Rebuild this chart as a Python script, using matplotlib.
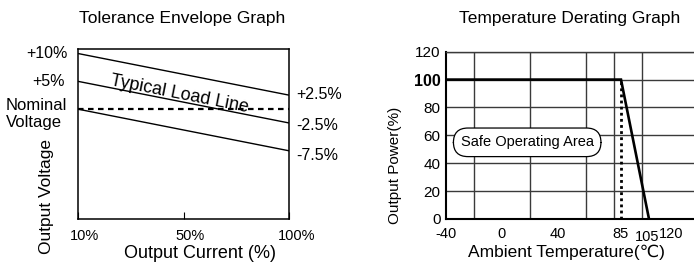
import numpy as np
import matplotlib.pyplot as plt
from matplotlib.transforms import ScaledTranslation

plt.rcParams['font.family'] = ['Liberation Sans', 'DejaVu Sans']

# tolerance envelope (output voltage deviation in % vs output current)
current = [10, 100]
upper_limit = [10, 2.5]
typical_line = [5, -2.5]
lower_limit = [0, -7.5]
nominal = [0, 0]
current_ticks = [10, 55, 100]
current_labels = ['10%', '50%', '100%']

# temperature derating
temps = [-40, 85, 105]
power = [100, 100, 0]
temp_ticks = [-40, 0, 40, 85, 105, 120]
power_ticks = [0, 20, 40, 60, 80, 100, 120]

W, H = 694, 266
fig = plt.figure(figsize=(W / 100, H / 100), dpi=100)


def box(l, t, r, b):  # pixel box -> figure fraction
    return [l / W, 1 - b / H, (r - l) / W, (b - t) / H]


def ftext(x, y, s, **kw):  # text placed in pixel coords
    return fig.text(x / W, 1 - y / H, s, **kw)


def shift(lab, dx, dy):  # nudge a tick label by pixels
    lab.set_transform(lab.get_transform() + ScaledTranslation(dx / 100, -dy / 100, fig.dpi_scale_trans))


# ---- left: tolerance envelope ----
ax1 = fig.add_axes(box(77.7, 49, 289.3, 219.3))
ax1.plot(current, upper_limit, color='black', lw=1.0)
ax1.plot(current, typical_line, color='black', lw=1.0)
ax1.plot(current, lower_limit, color='black', lw=1.0)
ax1.plot(current, nominal, color='black', lw=1.6, linestyle=(0, (2.5, 2)))
ax1.set_xlim(10, 100)
ax1.set_ylim(-19.8, 10.8)
ax1.set_yticks([])
ax1.set_xticks(current_ticks)
ax1.set_xticklabels(current_labels, fontsize=10.5)
ax1.tick_params(axis='x', direction='in', length=5, width=0.8, pad=7)
for lab in ax1.get_xticklabels():
    shift(lab, 7, 0)
for sp in ax1.spines.values():
    sp.set_linewidth(1.1)

# "Typical Load Line" text along the middle line
p = ax1.transData.transform([[current[0], typical_line[0]], [current[1], typical_line[1]]])
ang = np.degrees(np.arctan2(p[1, 1] - p[0, 1], p[1, 0] - p[0, 0]))
xm = 53
ym = np.interp(xm, current, typical_line)
ax1.text(xm, ym + 0.5, 'Typical Load Line', rotation=ang, rotation_mode='anchor',
         ha='center', va='baseline', fontsize=13)

ftext(68, 53, '+10%', ha='right', va='center', fontsize=11.5)
ftext(65, 81.5, '+5%', ha='right', va='center', fontsize=11.5)
ftext(6, 114, 'Nominal\nVoltage', ha='left', va='center', fontsize=12, linespacing=1.25)
ftext(296.5, 94.5, '+2.5%', ha='left', va='center', fontsize=11.5)
ftext(296.5, 125, '-2.5%', ha='left', va='center', fontsize=11.5)
ftext(296.5, 155, '-7.5%', ha='left', va='center', fontsize=11.5)

ftext(182.5, 18, 'Tolerance Envelope Graph', ha='center', va='center', fontsize=12.5)
ftext(200, 254, 'Output Current (%)', ha='center', va='center', fontsize=13)
ftext(46.5, 197, 'Output Voltage', ha='center', va='center', rotation=90, fontsize=12.5)

# ---- right: temperature derating ----
ax2 = fig.add_axes(box(446, 51.7, 698, 219))
ax2.set_xlim(-40, 140)
ax2.set_ylim(0, 120)
ax2.set_xticks(temp_ticks)
ax2.set_xticks(np.arange(-40, 141, 20), minor=True)
ax2.set_yticks(power_ticks)
ax2.set_xticklabels([str(t) for t in temp_ticks], fontsize=10.5)
ax2.set_yticklabels([str(v) for v in power_ticks], fontsize=11)
ax2.tick_params(which='both', length=0)
ax2.tick_params(axis='x', pad=6)
ax2.tick_params(axis='y', pad=4)
ax2.grid(which='minor', axis='x', color='#3a3a3a', lw=1.0)
ax2.grid(which='major', axis='y', color='#3a3a3a', lw=1.0)
ax2.set_axisbelow(True)
for lab in ax2.get_yticklabels():
    if lab.get_text() == '100':
        lab.set_fontweight('bold')
        lab.set_fontsize(11.5)
for lab in ax2.get_xticklabels():
    if lab.get_text() == '105':
        shift(lab, -2, 3)
    elif lab.get_text() == '120':
        shift(lab, 1.5, 0)
ax2.spines['left'].set_linewidth(1.5)
ax2.spines['bottom'].set_linewidth(1.5)
ax2.spines['top'].set_linewidth(1.0)
ax2.spines['top'].set_color('#3a3a3a')
ax2.spines['right'].set_visible(False)

ax2.plot(temps, power, color='black', lw=1.9, solid_joinstyle='miter')
ax2.plot([temps[1], temps[1]], [0, power[1]], color='black', lw=2.0, linestyle=(0, (1, 1.2)))

ax2.text(18, 55, 'Safe Operating Area', ha='center', va='center', fontsize=10.5,
         bbox=dict(boxstyle='round,pad=0.5,rounding_size=1.0', fc='white', ec='black', lw=0.9))

ftext(570, 18, 'Temperature Derating Graph', ha='center', va='center', fontsize=12.5)
ftext(566, 252, 'Ambient Temperature(\u2103)', ha='center', va='center', fontsize=12.5)
ftext(395, 165, 'Output Power(%)', ha='center', va='center', rotation=90, fontsize=11)

fig.savefig('out.png', dpi=100)
